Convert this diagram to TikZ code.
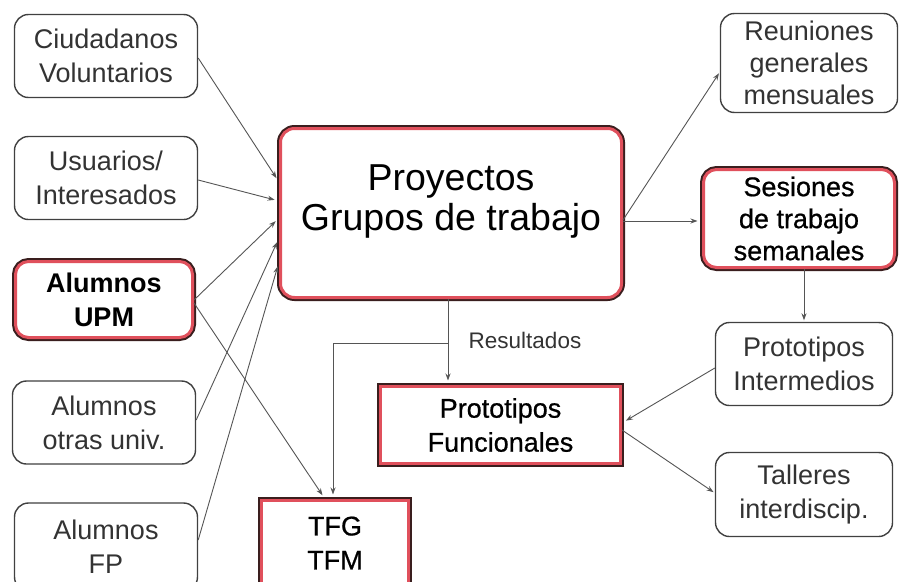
\documentclass[tikz,border=0pt]{standalone}
\usepackage{fontspec}
\setmainfont{Liberation Sans}
\newfontfamily\medfont[FakeBold=0.7]{Liberation Sans}
\usetikzlibrary{arrows.meta}
\definecolor{edgegray}{HTML}{555555}
\definecolor{boxgray}{HTML}{404040}
\definecolor{txtgray}{HTML}{333333}
\definecolor{redline}{HTML}{E0505C}
\definecolor{darkline}{HTML}{3A1E1E}
\begin{document}
\begin{tikzpicture}[x=1pt,y=-1pt,
  plainbox/.style={draw=boxgray, line width=1.4pt, rounded corners=14pt, fill=white,
    inner sep=0pt, align=center, text=txtgray, font=\fontsize{27}{34}\selectfont},
  redbox/.style={draw=redline, line width=3pt, preaction={draw=darkline, line width=7pt},
    fill=white, inner sep=0pt, align=center, text=black, font=\medfont\fontsize{27}{34}\selectfont},
  conn/.style={draw=edgegray, line width=0.9pt, -{Stealth[length=7pt,width=5pt]}, shorten >=1.5pt},
  tored/.style={shorten >=4.5pt},
  plainline/.style={draw=edgegray, line width=0.9pt}
]
\useasboundingbox (0,0) rectangle (899,581);
\fill[white] (0,0) rectangle (899,581);

% left column
\node[plainbox, minimum width=183pt, minimum height=83pt] (ciud) at (106,56) {Ciudadanos\\Voluntarios};
\node[plainbox, minimum width=183pt, minimum height=83pt] (usu) at (106,178) {Usuarios/\\Interesados};
\node[redbox, rounded corners=13pt, minimum width=177pt, minimum height=76pt,
  font=\bfseries\fontsize{27}{34}\selectfont] (upm) at (104,299.5) {Alumnos\\UPM};
\node[plainbox, minimum width=183pt, minimum height=83pt] (otras) at (104,422.5) {Alumnos\\otras univ.};
\node[plainbox, minimum width=183pt, minimum height=88pt] (fp) at (106,547) {Alumnos\\FP};

% centre
\node[redbox, rounded corners=14pt, minimum width=341pt, minimum height=169pt] (proy) at (451,213) {};
\node[font=\fontsize{37.5}{40}\selectfont, text=black, align=center] (proyt) at (451,201) {Proyectos\\Grupos de trabajo};
\node[redbox, minimum width=240pt, minimum height=77pt] (pfun) at (500.5,425) {Prototipos\\Funcionales};
\node[redbox, minimum width=147pt, minimum height=85pt] (tfg) at (335,543) {TFG\\TFM};
\node[text=txtgray, font=\fontsize{22.5}{26}\selectfont] (res) at (525,340) {Resultados};

% right column
\node[plainbox, minimum width=177pt, minimum height=99pt, font=\fontsize{27}{32}\selectfont] (reun) at (809,63) {Reuniones\\generales\\mensuales};
\node[redbox, rounded corners=13pt, minimum width=191pt, minimum height=98pt,
  font=\medfont\fontsize{27}{32}\selectfont] (ses) at (799,218.5) {Sesiones\\de trabajo\\semanales};
\node[plainbox, minimum width=177pt, minimum height=83pt] (pint) at (804,364) {Prototipos\\Intermedios};
\node[plainbox, minimum width=177pt, minimum height=84pt] (tall) at (804,494.5) {Talleres\\interdiscip.};

% connectors into Proyectos
\draw[conn, tored] (ciud.east |- 0,58) -- (proy.west |- 0,182);
\draw[conn, tored] (usu.east |- 0,180) -- (proy.west |- 0,201);
\draw[conn, tored] (upm.east |- 0,300) -- (proy.west |- 0,218);
\draw[conn, tored] (otras.east |- 0,420) -- (proy.west |- 0,238);
\draw[conn, tored] (fp.east |- 0,540) -- (proy.west |- 0,262);

% Alumnos UPM -> TFG
\draw[conn, tored] (upm.east |- 0,303) -- ([xshift=-10pt]tfg.north);

% Resultados
\coordinate (branch) at (448,343);
\coordinate (corner) at (333,343);
\draw[conn, tored] ([xshift=-3pt]proy.south) -- (pfun.north -| branch);
\draw[plainline] (branch) -- (corner);
\draw[conn, tored] (corner) -- (tfg.north -| corner);

% right side
\draw[conn, tored] (proy.east |- 0,221) -- (ses.west |- 0,221);
\draw[conn] (proy.east |- 0,220) -- (reun.west |- 0,72);
\draw[conn] (pint.north |- ses.south) -- (pint.north);
\draw[conn, tored] (pint.west |- 0,368) -- (pfun.east |- 0,423);
\draw[conn] (pfun.east |- 0,430) -- (tall.west |- 0,493);
\end{tikzpicture}
\end{document}
